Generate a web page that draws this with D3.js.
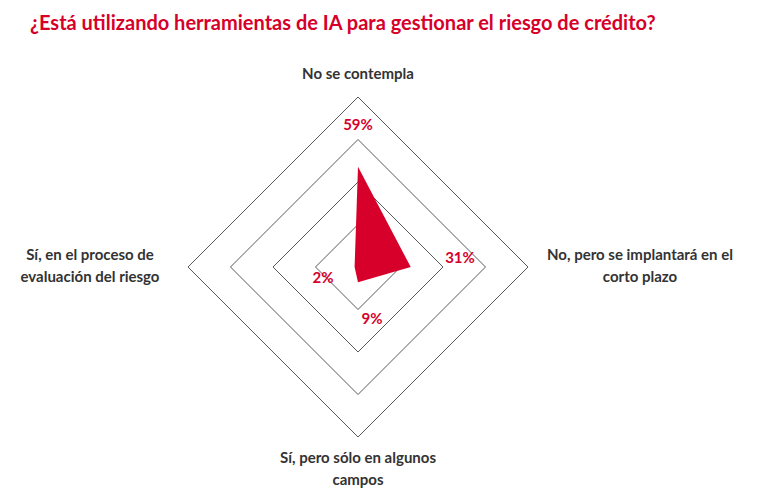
<!DOCTYPE html>
<html><head><meta charset="utf-8">
<script src="https://cdn.jsdelivr.net/npm/d3@7"></script>
<style>body{margin:0;background:#fff}text{font-family:Lato,"Open Sans",sans-serif}</style>
</head><body><svg id="c" width="774" height="499"></svg>
<script>
const categories=["No se contempla","No, pero se implantará en el corto plazo","Sí, pero sólo en algunos campos","Sí, en el proceso de evaluación del riesgo"];
const values=[59,31,9,2];
const rings=[25,50,75,100];
const svg=d3.select("#c");
const cx=358,cy=267,R=170;
const r=d3.scaleLinear().domain([0,100]).range([0,R]);
const ang=i=>-Math.PI/2+i*Math.PI/2;
const pt=(v,i)=>[cx+r(v)*Math.cos(ang(i)),cy+r(v)*Math.sin(ang(i))];
svg.append("text").attr("x",30).attr("y",30).attr("fill","#d6002a").attr("font-size",20).attr("font-weight","bold").text("¿Está utilizando herramientas de IA para gestionar el riesgo de crédito?");
const line=d3.line();
rings.forEach(v=>{svg.append("path").attr("d",line(categories.map((c,i)=>pt(v,i)))+"Z").attr("fill","none").attr("stroke","#595959").attr("stroke-width",1);});
svg.append("path").attr("d",line(values.map((v,i)=>pt(v,i)))+"Z").attr("fill","#d6002a");
const lab=[[358,130,"middle"],[460,263,"middle"],[372,324,"middle"],[323,283,"middle"]];
values.forEach((v,i)=>svg.append("text").attr("x",lab[i][0]).attr("y",lab[i][1]).attr("text-anchor","middle").attr("fill","#d6002a").attr("font-size",15).attr("font-weight","bold").text(v+"%"));
const cl=[[[358,79,"middle"],["No se contempla"]],[[640,260,"middle"],["No, pero se implantará en el","corto plazo"]],[[358,463,"middle"],["Sí, pero sólo en algunos","campos"]],[[90,260,"middle"],["Sí, en el proceso de","evaluación del riesgo"]]];
cl.forEach(([p,ls])=>{const t=svg.append("text").attr("x",p[0]).attr("y",p[1]).attr("text-anchor",p[2]).attr("fill","#333").attr("font-size",15).attr("font-weight","bold");ls.forEach((l,j)=>t.append("tspan").attr("x",p[0]).attr("dy",j?22:0).text(l));});
</script></body></html>
